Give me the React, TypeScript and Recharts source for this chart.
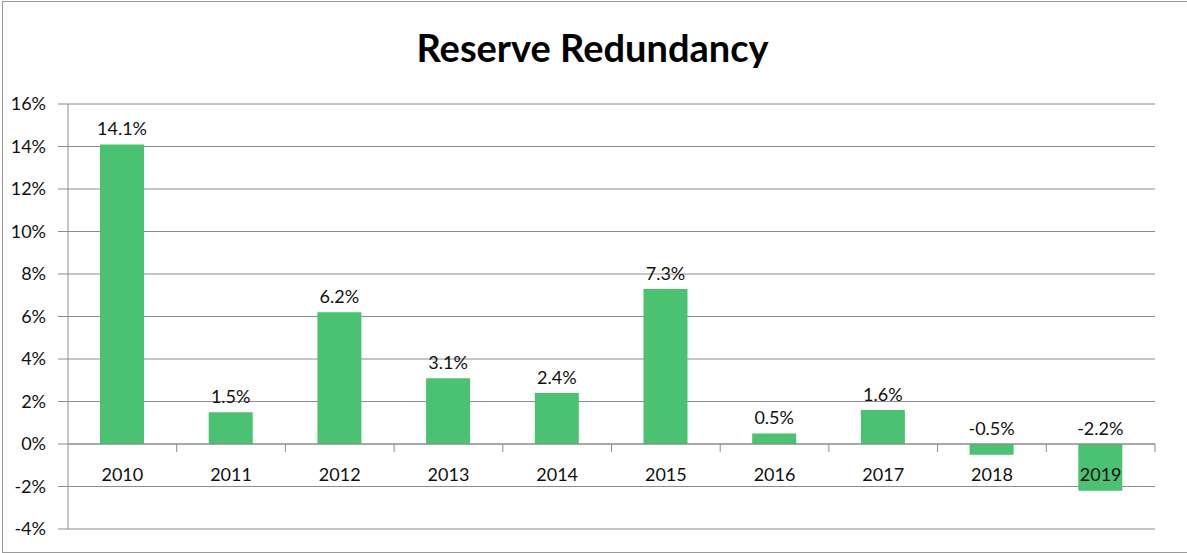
import { BarChart, Bar, XAxis, YAxis, CartesianGrid, ReferenceLine, LabelList } from 'recharts';

const years = ['2010', '2011', '2012', '2013', '2014', '2015', '2016', '2017', '2018', '2019'];
const redundancy = [14.1, 1.5, 6.2, 3.1, 2.4, 7.3, 0.5, 1.6, -0.5, -2.2];
const yTicks = [-4, -2, 0, 2, 4, 6, 8, 10, 12, 14, 16];

const data = years.map((year, i) => ({ year, value: redundancy[i] }));

const W = 1187;
const H = 553;
const X_AXIS_H = 24;
const M = { top: 104, right: 32, bottom: 0, left: 0 };
const Y_AXIS_W = 68;
const PLOT_H = H - M.top - X_AXIS_H;
const ZERO_Y = M.top + (PLOT_H * 16) / 20;
const BAND = (W - M.right - Y_AXIS_W) / years.length;

const FONT = 'Lato, "Open Sans", sans-serif';
const GRID = '#8c8c8c';

const YearTick = (props: any) => {
  const { x, payload } = props;
  return (
    <g>
      <line x1={x + BAND / 2} x2={x + BAND / 2} y1={ZERO_Y} y2={ZERO_Y + 8} stroke={GRID} />
      <text x={x} y={ZERO_Y + 37} textAnchor="middle" fontSize={18} fill="#111" fontFamily={FONT}>
        {payload.value}
      </text>
    </g>
  );
};

const ValueLabel = (props: any) => {
  const { x, y, width, height, value } = props;
  const top = Math.min(y, y + height);
  const by = value >= 0 ? top - 9 : ZERO_Y - 9;
  return (
    <text x={x + width / 2} y={by} textAnchor="middle" fontSize={18} fill="#111" fontFamily={FONT}>
      {`${value.toFixed(1)}%`}
    </text>
  );
};

export default function App() {
  return (
    <div style={{ position: 'absolute', left: 0, top: 0, width: W, height: H, overflow: 'hidden', background: '#fff' }}>
      <div style={{ position: 'absolute', left: 2, top: 1, width: W + 20, height: H - 3, border: '1px solid #9a9a9a' }} />
      <div
        style={{
          position: 'absolute',
          left: 0,
          top: 24,
          width: W - 2,
          textAlign: 'center',
          fontFamily: FONT,
          fontWeight: 700,
          fontSize: 38,
          lineHeight: '46px',
          color: '#000',
        }}
      >
        Reserve Redundancy
      </div>
      <div style={{ position: 'absolute', left: 0, top: 0 }}>
        <BarChart width={W} height={H} data={data} margin={M}>
          <CartesianGrid vertical={false} stroke={GRID} />
          <XAxis dataKey="year" axisLine={false} tickLine={false} tick={<YearTick />} interval={0} height={X_AXIS_H} />
          <YAxis
            width={Y_AXIS_W}
            domain={[-4, 16]}
            ticks={yTicks}
            interval={0}
            tickFormatter={(v) => `${v}%`}
            tickSize={10}
            tickMargin={12}
            stroke={GRID}
            tick={{ fill: '#111', fontSize: 18, fontFamily: FONT }}
          />
          <ReferenceLine y={0} stroke={GRID} />
          <Bar dataKey="value" fill="#4ac272" isAnimationActive={false} barSize={44}>
            <LabelList dataKey="value" content={<ValueLabel />} />
          </Bar>
        </BarChart>
      </div>
    </div>
  );
}
